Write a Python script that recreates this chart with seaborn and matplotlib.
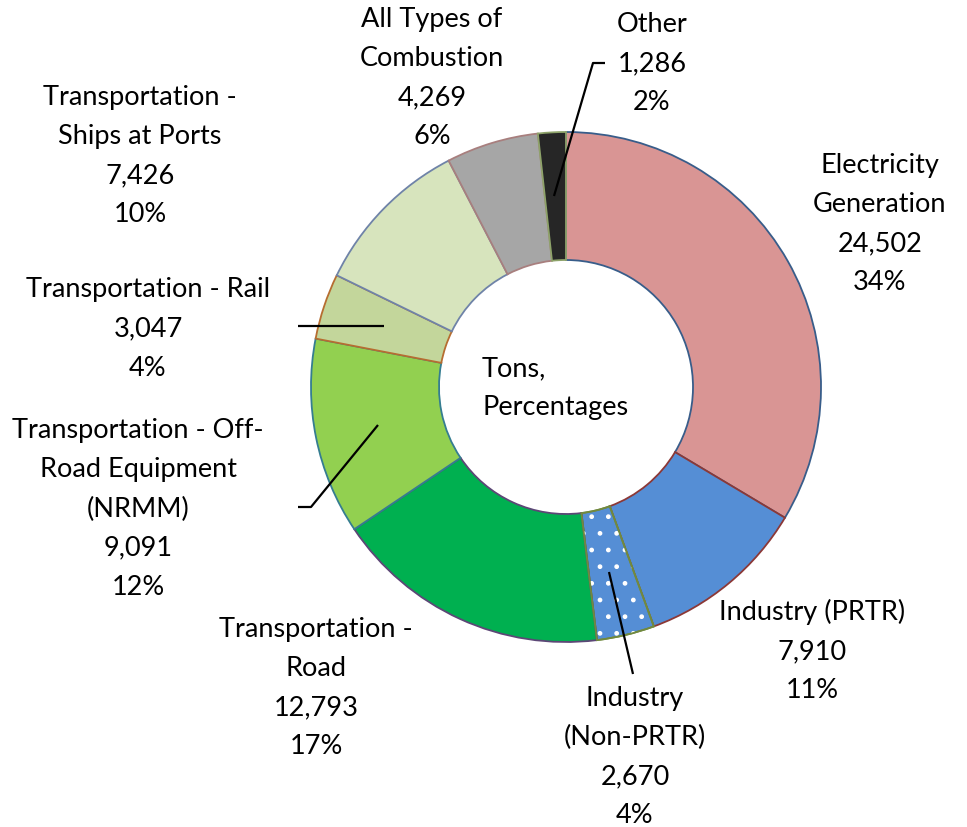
import numpy as np
import pandas as pd
import matplotlib
matplotlib.use("Agg")
import matplotlib.pyplot as plt
from matplotlib.patches import Wedge
import seaborn as sns

# sources, tons and the shares printed on the chart
categories = ["Electricity\nGeneration", "Industry (PRTR)", "Industry\n(Non-PRTR)",
              "Transportation -\nRoad", "Transportation - Off-\nRoad Equipment\n(NRMM)",
              "Transportation - Rail", "Transportation -\nShips at Ports",
              "All Types of\nCombustion", "Other"]
tons = [24502, 7910, 2670, 12793, 9091, 3047, 7426, 4269, 1286]
pct_labels = ["34%", "11%", "4%", "17%", "12%", "4%", "10%", "6%", "2%"]
face_colors = ["#D99594", "#558ED5", "#558ED5", "#00B050", "#92D050",
               "#C3D69B", "#D7E4BD", "#A6A6A6", "#262626"]
edge_colors = ["#385D8A", "#8C3836", "#71893F", "#5C4776", "#357D91",
               "#B66D31", "#6F83A8", "#A87F7E", "#8EA36A"]

# label centres in pixel coordinates (x, y from top)
label_pos = [(880, 224), (812, 651), (635, 757), (316, 688), (138, 509),
             (148, 329), (140, 156), (432, 78), (652, 64)]

df = pd.DataFrame({"source": categories, "tons": tons, "pct": pct_labels})

sns.set_style("white")
plt.rcParams["font.family"] = ["Lato", "DejaVu Sans"]

W, H = 967, 828
fig = plt.figure(figsize=(W / 100, H / 100), dpi=100)
ax = fig.add_axes([0, 0, 1, 1])

cx, cy, R = 566, H - 388, 255
wedges, _ = ax.pie(df["tons"], colors=face_colors, startangle=90, counterclock=False,
                   center=(cx, cy), radius=R, frame=True,
                   wedgeprops=dict(width=128, linewidth=1.3))
ax.set_xlim(0, W)
ax.set_ylim(0, H)
ax.set_aspect("equal")
ax.axis("off")
for w, ec in zip(wedges, edge_colors):
    w.set_edgecolor(ec)

# dotted pattern on Industry (Non-PRTR)
w = wedges[2]
dots = Wedge(w.center, w.r, w.theta1, w.theta2, width=w.width,
             facecolor="none", edgecolor="white", hatch=".", linewidth=0)
ax.add_patch(dots)
ax.add_patch(Wedge(w.center, w.r, w.theta1, w.theta2, width=w.width,
                   facecolor="none", edgecolor=edge_colors[2], linewidth=1.3))

for (x, y), name, t, p in zip(label_pos, df["source"], df["tons"], df["pct"]):
    ax.text(x, H - y, f"{name}\n{t:,}\n{p}", ha="center", va="center",
            fontsize=19.5, linespacing=1.7, color="black")

ax.text(482, H - 388, "Tons,\nPercentages", ha="left", va="center",
        fontsize=19.5, linespacing=1.7, color="black")

# leader lines
leaders = [
    [(605, 64), (593, 64), (554, 197)],
    [(298, 327), (384, 327)],
    [(298, 508), (311, 508), (378, 426)],
    [(609, 573), (633, 675)],
]
for pts in leaders:
    xs = [p[0] for p in pts]
    ys = [H - p[1] for p in pts]
    ax.plot(xs, ys, color="black", linewidth=1.6, solid_capstyle="butt")

fig.savefig("out.png", dpi=100)
